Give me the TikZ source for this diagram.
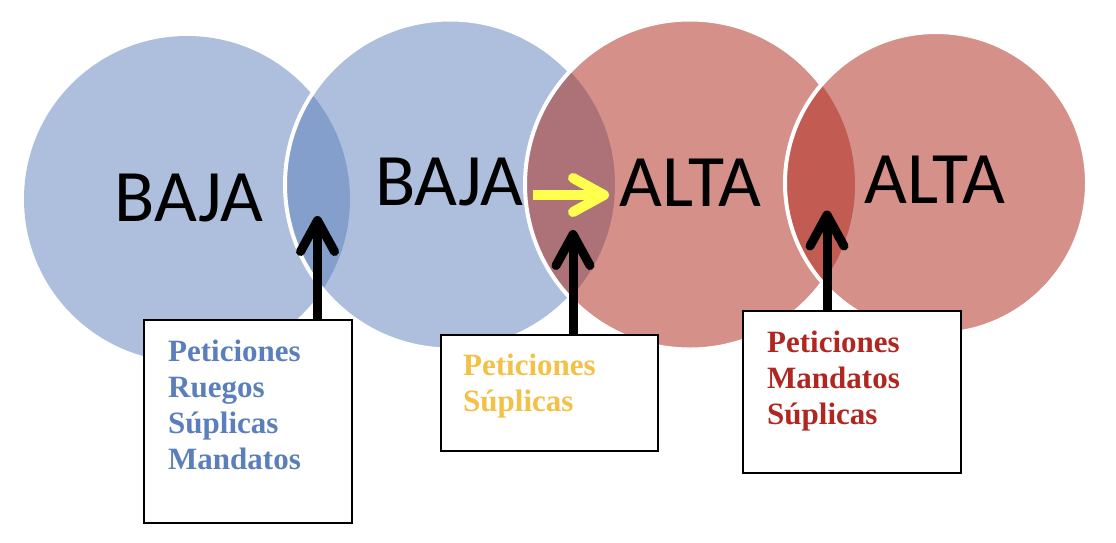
\documentclass[tikz,border=0pt]{standalone}
\usepackage{fontspec}
\setmainfont{Liberation Serif}
\newfontfamily\calibfont{Carlito}
\usetikzlibrary{calc}
\definecolor{cblue}{HTML}{AEBFDD}
\definecolor{cblueov}{HTML}{849FCB}
\definecolor{cred}{HTML}{D6908A}
\definecolor{credov}{HTML}{C25B51}
\definecolor{cmixov}{HTML}{AC7277}
\definecolor{tblue}{HTML}{5B7FBA}
\definecolor{tyellow}{HTML}{F2C145}
\definecolor{tred}{HTML}{B02620}
\definecolor{yarrow}{HTML}{FFFF4D}
\begin{document}
\begin{tikzpicture}[x=1pt,y=-1pt,
  disc/.style={circle, inner sep=0pt, outer sep=0pt, minimum size=#1},
  rim/.style={draw=white, line width=4pt},
  bigword/.style={font=\calibfont\fontsize{74}{74}\selectfont, inner sep=0pt, anchor=base},
  labelbox/.style={draw=black, line width=2.8pt, fill=white, inner sep=0pt, outer sep=0pt, anchor=north west},
  boxtext/.style={font=\bfseries\fontsize{31}{36}\selectfont, align=left, inner sep=0pt, anchor=north west},
  shaft/.style={line width=9pt, line cap=butt},
  barb/.style={line width=9pt, line cap=round, line join=round},
  yshaft/.style={draw=yarrow, line width=10pt, line cap=butt},
  ybarb/.style={draw=yarrow, line width=10pt, line cap=round, line join=round},
]
\useasboundingbox (0,0) rectangle (1116,542);

% circles
\node[disc=326pt, fill=cblue] (c1) at (187,199) {};
\node[disc=330pt, fill=cblue] (c2) at (450,184.5) {};
\begin{scope}
  \clip (c1.center) circle[radius=163pt];
  \fill[cblueov] (c2.center) circle[radius=165pt];
\end{scope}
\draw[rim] (c2.center) circle[radius=165pt];

\node[disc=330pt, fill=cred] (c3) at (690,184.5) {};
\begin{scope}
  \clip (c2.center) circle[radius=165pt];
  \fill[cmixov] (c3.center) circle[radius=165pt];
\end{scope}
\draw[rim] (c3.center) circle[radius=165pt];

\node[disc=302pt, fill=cred] (c4) at (936,183) {};
\begin{scope}
  \clip (c3.center) circle[radius=165pt];
  \fill[credov] (c4.center) circle[radius=151pt];
\end{scope}
\draw[rim] (c4.center) circle[radius=151pt];

% words
\node[bigword] (w1) at (189,221.5) {BAJA};
\node[bigword] (w2) at (449.5,205) {BAJA};
\node[bigword] (w3) at (690.5,206) {ALTA};
\node[bigword] (w4) at (935,203) {ALTA};

% yellow arrow
\coordinate (ys) at (533,195);
\coordinate (yt) at (604,195);
\draw[yshaft] (ys) -- (yt);
\draw[ybarb] ($(yt)+(-31,-17)$) -- (yt) -- ($(yt)+(-31,17)$);

% boxes
\node[labelbox, minimum width=208pt, minimum height=203pt] (b1) at (144,320) {};
\node[labelbox, minimum width=217pt, minimum height=116pt] (b2) at (441,335) {};
\node[labelbox, minimum width=218pt, minimum height=162pt] (b3) at (743,311) {};

\node[boxtext, text=tblue] (l1) at ($(b1.north west)+(24,20)$) {Peticiones\\Ruegos\\Súplicas\\Mandatos};
\node[boxtext, text=tyellow] (l2) at ($(b2.north west)+(22,19)$) {Peticiones\\Súplicas};
\node[boxtext, text=tred] (l3) at ($(b3.north west)+(24,20)$) {Peticiones\\Mandatos\\Súplicas};

% black arrows
\coordinate (t1) at (317.5,220.5);
\coordinate (t2) at (573,234.5);
\coordinate (t3) at (827,215);
\draw[shaft] (b1.north -| t1) -- (t1);
\draw[barb] ($(t1)+(-17,31)$) -- (t1) -- ($(t1)+(17,31)$);
\draw[shaft] (b2.north -| t2) -- (t2);
\draw[barb] ($(t2)+(-17,31)$) -- (t2) -- ($(t2)+(17,31)$);
\draw[shaft] (b3.north -| t3) -- (t3);
\draw[barb] ($(t3)+(-17,31)$) -- (t3) -- ($(t3)+(17,31)$);
\end{tikzpicture}
\end{document}
